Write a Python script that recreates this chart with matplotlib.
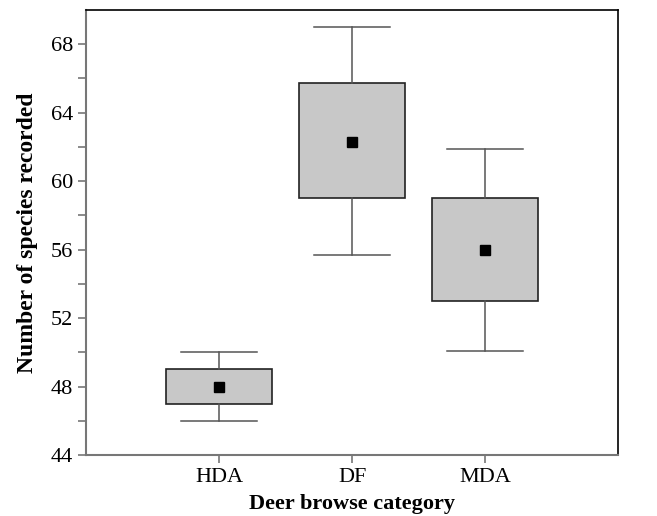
import matplotlib.pyplot as plt

# box statistics
categories = ["HDA", "DF", "MDA"]
means = [48.0, 62.3, 56.0]
q1 = [47.0, 59.0, 53.0]
q3 = [49.0, 65.7, 59.0]
whisk_lo = [46.0, 55.7, 50.1]
whisk_hi = [50.0, 69.0, 61.9]

plt.rcParams['font.family'] = ['Liberation Serif', 'DejaVu Serif']

fig = plt.figure(figsize=(6.57, 5.16), dpi=100)
ax = fig.add_axes([0.131, 0.118, 0.81, 0.863])

stats = []
for i, name in enumerate(categories):
    stats.append({
        'label': name, 'mean': means[i], 'med': means[i],
        'q1': q1[i], 'q3': q3[i],
        'whislo': whisk_lo[i], 'whishi': whisk_hi[i], 'fliers': [],
    })

ax.bxp(stats, positions=[1, 2, 3], widths=0.8, showmeans=True,
       showfliers=False, patch_artist=True, capwidths=0.57,
       boxprops=dict(facecolor='#c8c8c8', edgecolor='#222222', linewidth=1.2),
       whiskerprops=dict(color='#555555', linewidth=1.1),
       capprops=dict(color='#555555', linewidth=1.1),
       medianprops=dict(linewidth=0),
       meanprops=dict(marker='s', markerfacecolor='black',
                      markeredgecolor='black', markersize=7))

ax.set_xlim(0, 4)
ax.set_ylim(44, 70)
ax.set_yticks(range(44, 69, 4))
ax.set_yticks(range(46, 70, 4), minor=True)
ax.set_xticks([1, 2, 3])
ax.set_xticklabels(categories)

for side in ['left', 'bottom']:
    ax.spines[side].set_color('#777777')
    ax.spines[side].set_linewidth(1.5)
for side in ['top', 'right']:
    ax.spines[side].set_color('black')
    ax.spines[side].set_linewidth(1.2)

ax.tick_params(axis='both', which='both', color='#777777', labelsize=16, width=1.2)
ax.tick_params(axis='both', which='major', length=6)
ax.tick_params(axis='y', which='minor', length=6)

ax.set_xlabel("Deer browse category", fontsize=16, fontweight='bold', labelpad=5)
ax.set_ylabel("Number of species recorded", fontsize=17, fontweight='bold', labelpad=9)

fig.savefig("out.png", dpi=100)
